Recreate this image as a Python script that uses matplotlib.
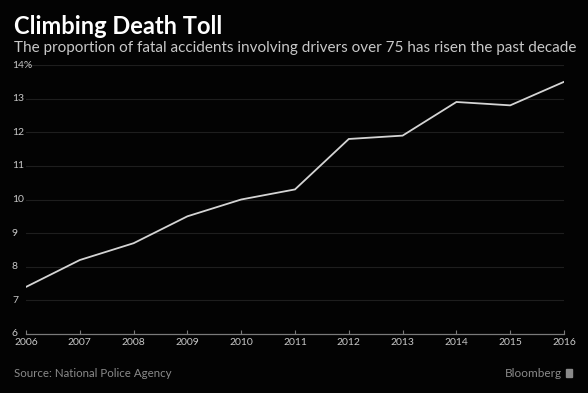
import matplotlib

matplotlib.use("Agg")
import matplotlib.pyplot as plt
from matplotlib.transforms import blended_transform_factory

years = [2006, 2007, 2008, 2009, 2010, 2011, 2012, 2013, 2014, 2015, 2016]
share = [7.4, 8.2, 8.7, 9.5, 10.0, 10.3, 11.8, 11.9, 12.9, 12.8, 13.5]
y_ticks = [6, 7, 8, 9, 10, 11, 12, 13, 14]
y_labels = ["6", "7", "8", "9", "10", "11", "12", "13", "14%"]

W, H = 588, 393
BG = "#030303"

plt.rcParams["font.family"] = ["Lato", "DejaVu Sans"]

fig = plt.figure(figsize=(W / 100, H / 100), dpi=100, facecolor=BG)
ax = fig.add_axes([26 / W, (H - 334) / H, (564 - 26) / W, (334 - 65) / H])
ax.set_facecolor(BG)

ax.plot(years, share, color="#d4d4d4", linewidth=1.3, solid_joinstyle="miter")

ax.set_xlim(years[0], years[-1])
ax.set_ylim(6, 14)

for v in y_ticks[1:]:
    ax.axhline(v, color="#1e1e1e", linewidth=0.8, zorder=0)

for side in ("top", "right", "left"):
    ax.spines[side].set_visible(False)
ax.spines["bottom"].set_color("#7a7a7a")
ax.spines["bottom"].set_linewidth(0.9)

ax.set_xticks(years)
ax.set_xticklabels([str(y) for y in years], color="#c8c8c8", fontsize=7.5)
ax.tick_params(axis="x", direction="in", length=3, width=0.8, color="#7a7a7a", pad=3)
ax.set_yticks([])

trans = blended_transform_factory(fig.transFigure, ax.transData)
for v, lab in zip(y_ticks, y_labels):
    ax.text(12 / W, v, lab, transform=trans, ha="left", va="center",
            color="#c8c8c8", fontsize=7.5)

fig.text(14 / W, 1 - 34 / H, "Climbing Death Toll", color="white",
         fontsize=17, fontweight="bold", va="baseline", ha="left")
fig.text(14 / W, 1 - 52 / H,
         "The proportion of fatal accidents involving drivers over 75 has risen the past decade",
         color="#c8c8c8", fontsize=11, va="baseline", ha="left")
fig.text(14 / W, 1 - 377 / H, "Source: National Police Agency", color="#8a8a8a",
         fontsize=8.3, va="baseline", ha="left")
fig.text(562 / W, 1 - 377 / H, "Bloomberg", color="#8a8a8a",
         fontsize=8.5, va="baseline", ha="right")
fig.patches.append(plt.Rectangle((566 / W, 1 - 377 / H), 6 / W, 8 / H,
                                 transform=fig.transFigure, color="#8a8a8a"))

fig.savefig("out.png", dpi=100, facecolor=BG)
